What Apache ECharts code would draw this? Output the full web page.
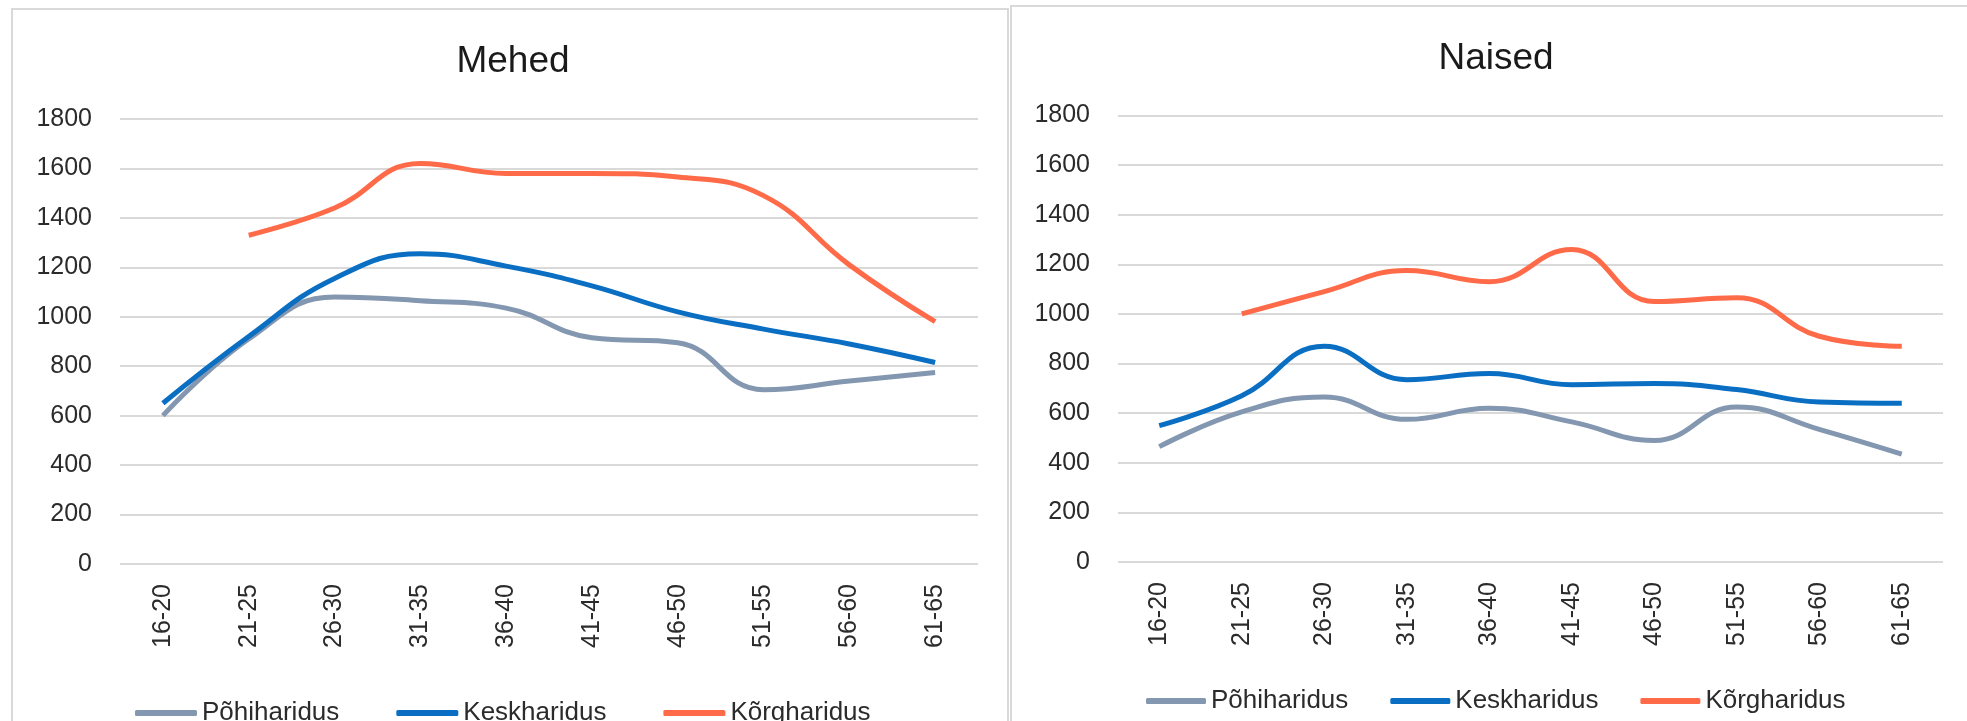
<!DOCTYPE html>
<html>
<head>
<meta charset="utf-8">
<script src="https://cdn.jsdelivr.net/npm/echarts@6/dist/echarts.min.js"></script>
<style>
html,body{margin:0;padding:0;background:#fff;}
#c{width:1967px;height:721px;}
</style>
</head>
<body>
<div id="c"></div>
<script>
const categories = ['16-20','21-25','26-30','31-35','36-40','41-45','46-50','51-55','56-60','61-65'];
const seriesNames = ['Põhiharidus','Keskharidus','Kõrgharidus'];
const titles = ['Mehed','Naised'];
const yTicks = {min: 0, max: 1800, interval: 200};

const mehedPohi   = [600, 910, 1080, 1065, 1035, 915, 895, 705, 740, 775];
const mehedKesk   = [650, 920, 1155, 1255, 1205, 1125, 1020, 950, 890, 815];
const mehedKorg   = [null, 1330, 1440, 1620, 1580, 1580, 1565, 1490, 1210, 980];

const naisedPohi  = [465, 605, 665, 575, 620, 565, 490, 625, 535, 435];
const naisedKesk  = [550, 670, 870, 735, 760, 715, 720, 695, 645, 640];
const naisedKorg  = [null, 1000, 1090, 1175, 1130, 1260, 1050, 1065, 910, 870];

const colors = ['#8497b0', '#0a6fc2', '#ff6a48'];
const FONT = "'Liberation Sans', Arial, sans-serif";

const chart = echarts.init(document.getElementById('c'), null, {renderer: 'canvas'});

function xAxis(gi) {
  return {
    type: 'category', gridIndex: gi, data: categories, boundaryGap: true,
    axisLine: {show: false}, axisTick: {show: false},
    axisLabel: {rotate: 90, margin: 20, fontSize: 25, color: '#2b2b2b', fontFamily: FONT}
  };
}
function yAxis(gi) {
  return {
    type: 'value', gridIndex: gi, min: yTicks.min, max: yTicks.max, interval: yTicks.interval,
    axisLine: {show: false}, axisTick: {show: false},
    axisLabel: {margin: 28, fontSize: 25, color: '#2b2b2b', fontFamily: FONT,
                formatter: function (v) { return String(v); }},
    splitLine: {lineStyle: {color: '#d9d9d9', width: 2}}
  };
}
function line(name, data, idx, gi) {
  return {
    name: name, type: 'line', xAxisIndex: gi, yAxisIndex: gi, data: data,
    smooth: 0.45, showSymbol: false, symbol: 'none', connectNulls: false,
    lineStyle: {width: 5, color: colors[idx]}, itemStyle: {color: colors[idx]},
    z: 3 + idx
  };
}

chart.setOption({
  animation: false,
  backgroundColor: '#fff',
  title: [
    {text: titles[0], left: 508, top: 38, textAlign: 'center',
     textStyle: {fontSize: 37, fontWeight: 'normal', color: '#1a1a1a', fontFamily: FONT}},
    {text: titles[1], left: 1491, top: 35, textAlign: 'center',
     textStyle: {fontSize: 37, fontWeight: 'normal', color: '#1a1a1a', fontFamily: FONT}}
  ],
  legend: [
    {data: seriesNames, left: 130, top: 695, icon: 'roundRect', itemWidth: 62, itemHeight: 6, itemGap: 57,
     textStyle: {fontSize: 26, color: '#2b2b2b', fontFamily: FONT}},
    {data: seriesNames, left: 1141, top: 683, icon: 'roundRect', itemWidth: 60, itemHeight: 6, itemGap: 42,
     textStyle: {fontSize: 26, color: '#2b2b2b', fontFamily: FONT}}
  ],
  grid: [
    {left: 120, right: 1967 - 978, top: 119, bottom: 721 - 564},
    {left: 1118, right: 1967 - 1943, top: 115.5, bottom: 721 - 562}
  ],
  xAxis: [xAxis(0), xAxis(1)],
  yAxis: [yAxis(0), yAxis(1)],
  series: [
    line(seriesNames[0], mehedPohi, 0, 0),
    line(seriesNames[1], mehedKesk, 1, 0),
    line(seriesNames[2], mehedKorg, 2, 0),
    line(seriesNames[0], naisedPohi, 0, 1),
    line(seriesNames[1], naisedKesk, 1, 1),
    line(seriesNames[2], naisedKorg, 2, 1)
  ],
  graphic: [
    {type: 'rect', shape: {x: 12, y: 9, width: 996, height: 740}, silent: true,
     style: {fill: 'none', stroke: '#d9d9d9', lineWidth: 2}, z: -1},
    {type: 'rect', shape: {x: 1011, y: 6, width: 1000, height: 740}, silent: true,
     style: {fill: 'none', stroke: '#d9d9d9', lineWidth: 2}, z: -1}
  ]
});
</script>
</body>
</html>
